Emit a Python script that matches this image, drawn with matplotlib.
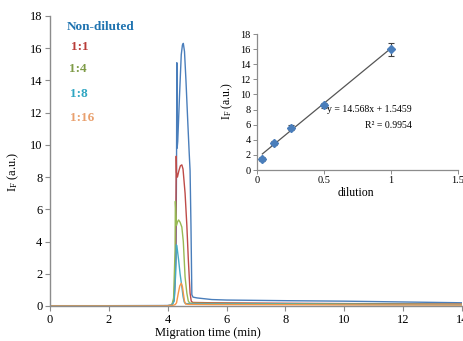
import matplotlib
matplotlib.use("Agg")
import matplotlib.pyplot as plt

plt.rcParams['font.family'] = ['Liberation Serif', 'DejaVu Serif']
plt.rcParams['mathtext.fontset'] = 'custom'
plt.rcParams['mathtext.rm'] = 'Liberation Serif'
plt.rcParams['mathtext.it'] = 'Liberation Serif:italic'

# ---------------- data: electropherograms ----------------
t_nd = [0, 2, 4.0, 4.14, 4.22, 4.28, 4.30, 4.31, 4.32, 4.34, 4.40, 4.46, 4.50, 4.53, 4.57, 4.62, 4.68, 4.73, 4.76,
        4.79, 4.82, 4.86, 5.0, 5.5, 6, 8, 10, 12, 14]
i_nd = [0.02, 0.02, 0.03, 0.05, 0.4, 3.0, 9.0, 15.1, 9.8, 10.2, 13.0, 15.6, 16.2, 16.3, 15.8, 14.0, 11.5, 9.5, 8.4,
        5.0, 0.7, 0.55, 0.5, 0.4, 0.37, 0.33, 0.3, 0.25, 0.2]

t_11 = [0, 2, 4.0, 4.14, 4.22, 4.27, 4.29, 4.30, 4.33, 4.38, 4.43, 4.48, 4.52, 4.59, 4.65, 4.70, 4.76, 4.80, 4.85,
        5.5, 8, 10, 14]
i_11 = [0.0, 0.0, 0.02, 0.05, 0.4, 3.0, 9.3, 8.3, 8.0, 8.4, 8.7, 8.76, 8.5, 7.0, 5.0, 2.9, 0.8, 0.3, 0.22,
        0.2, 0.17, 0.15, 0.12]

t_14 = [0, 2, 4.0, 4.14, 4.20, 4.25, 4.26, 4.30, 4.34, 4.37, 4.42, 4.48, 4.53, 4.59, 4.65, 4.70, 4.75,
        5.5, 8, 10, 14]
i_14 = [0.0, 0.0, 0.02, 0.05, 0.5, 3.5, 6.5, 5.0, 5.25, 5.34, 5.2, 4.9, 4.0, 1.8, 0.8, 0.3, 0.18,
        0.16, 0.14, 0.12, 0.1]

t_18 = [0, 2, 4.0, 4.14, 4.22, 4.27, 4.29, 4.31, 4.34, 4.37, 4.42, 4.48, 4.52, 4.56, 4.6,
        5.5, 8, 10, 14]
i_18 = [0.0, 0.0, 0.02, 0.04, 0.3, 2.0, 3.8, 3.75, 3.3, 2.86, 2.0, 1.2, 0.6, 0.25, 0.15,
        0.13, 0.12, 0.1, 0.08]

t_116 = [0, 2, 4.0, 4.14, 4.25, 4.30, 4.36, 4.41, 4.46, 4.50, 4.53, 4.57, 4.61, 4.7,
         5.5, 8, 10, 14]
i_116 = [0.0, 0.0, 0.01, 0.03, 0.08, 0.2, 0.8, 1.25, 1.41, 1.2, 0.8, 0.3, 0.12, 0.1,
         0.09, 0.08, 0.07, 0.06]

series_labels = ['Non-diluted', '1:1', '1:4', '1:8', '1:16']
line_colors = ['#4a7ebb', '#be4b48', '#98b954', '#46aac5', '#f79646']
text_colors = ['#1f73b0', '#b83c38', '#7e9b47', '#2fa6c2', '#e9a06e']

# ---------------- data: calibration (inset) ----------------
dilution = [0.04, 0.125, 0.25, 0.5, 1.0]
intensity = [1.46, 3.62, 5.6, 8.55, 15.95]
intensity_err = [0.25, 0.25, 0.3, 0.3, 0.85]
slope, intercept = 14.568, 1.5459
eq_text = 'y = 14.568x + 1.5459'
r2_text = 'R² = 0.9954'

W, H = 463, 341
fig = plt.figure(figsize=(W / 100, H / 100), dpi=100)

def fx(px):
    return px / W

def fy(py):
    return 1 - py / H

spine_c = '#8c8c8c'

ax = fig.add_axes([fx(50), fy(306), fx(462) - fx(50), fy(16) - fy(306)])
traces = [(t_nd, i_nd), (t_11, i_11), (t_14, i_14), (t_18, i_18), (t_116, i_116)]
for (t, y), c in zip(traces, line_colors):
    ax.plot(t, y, color=c, lw=1.0, solid_joinstyle='round')

ax.set_xlim(0, 14)
ax.set_ylim(0, 18)
ax.set_xticks(range(0, 15, 2))
ax.set_yticks(range(0, 19, 2))
for s in ['top', 'right']:
    ax.spines[s].set_visible(False)
for s in ['left', 'bottom']:
    ax.spines[s].set_color(spine_c)
    ax.spines[s].set_linewidth(1.0)
ax.tick_params(axis='both', direction='out', length=3.5, width=0.8, color=spine_c,
               labelsize=9, pad=2)

fig.text(fx(208), fy(333), 'Migration time (min)', ha='center', va='center', fontsize=9)
fig.text(fx(13), fy(172), r'$\mathrm{I}_{\mathrm{F}}$ (a.u.)', ha='center', va='center',
         rotation=90, fontsize=9)

label_pos = [(67, 27), (71, 47), (69, 69), (70, 94), (70, 118)]
for lab, (px, py), c in zip(series_labels, label_pos, text_colors):
    fig.text(fx(px), fy(py), lab, ha='left', va='center', fontsize=9.5,
             fontweight='bold', color=c)

# ---------------- inset ----------------
ax2 = fig.add_axes([fx(257), fy(170), fx(458) - fx(257), fy(34) - fy(170)])
ax2.patch.set_alpha(0)
xfit = [dilution[0], dilution[-1]]
yfit = [slope * x + intercept for x in xfit]
ax2.plot(xfit, yfit, color='#555555', lw=0.9)
ax2.errorbar(dilution, intensity, yerr=intensity_err, fmt='D', color='#4a7ebb',
             ms=4.5, ecolor='#404040', elinewidth=0.8, capsize=2, capthick=0.8)
ax2.set_xlim(0, 1.5)
ax2.set_ylim(0, 18)
ax2.set_xticks([0, 0.5, 1, 1.5])
ax2.set_xticklabels(['0', '0.5', '1', '1.5'])
ax2.set_yticks(range(0, 19, 2))
for s in ['top', 'right']:
    ax2.spines[s].set_visible(False)
for s in ['left', 'bottom']:
    ax2.spines[s].set_color(spine_c)
    ax2.spines[s].set_linewidth(0.9)
ax2.tick_params(axis='both', direction='out', length=3, width=0.7, color=spine_c,
                labelsize=7.5, pad=1.5)
fig.text(fx(356), fy(193), 'dilution', ha='center', va='center', fontsize=8.5)
fig.text(fx(227), fy(101), r'$\mathrm{I}_{\mathrm{F}}$ (a.u.)', ha='center', va='center',
         rotation=90, fontsize=8.5)
fig.text(fx(412), fy(110), eq_text, ha='right', va='center', fontsize=7)
fig.text(fx(412), fy(125), r2_text, ha='right', va='center', fontsize=7)

fig.savefig('out.png', dpi=100)
